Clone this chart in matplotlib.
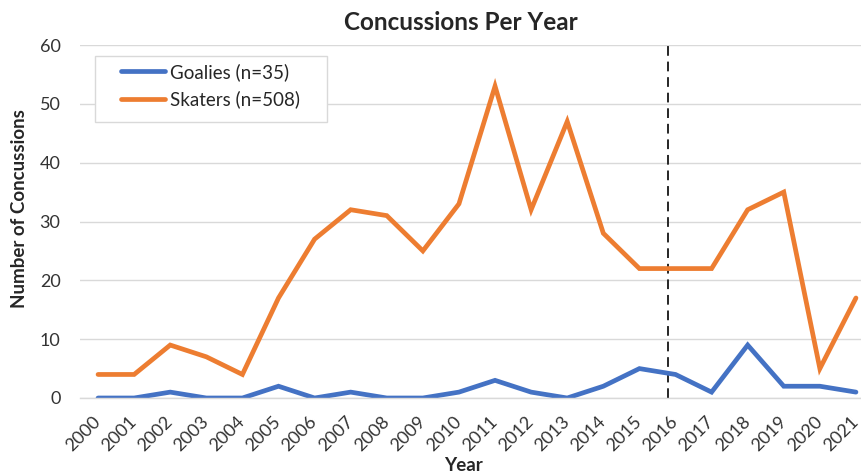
import matplotlib
matplotlib.use("Agg")
import matplotlib.pyplot as plt
from matplotlib.patches import Rectangle

years = list(range(2000, 2022))
goalies = [0, 0, 1, 0, 0, 2, 0, 1, 0, 0, 1, 3, 1, 0, 2, 5, 4, 1, 9, 2, 2, 1]
skaters = [4, 4, 9, 7, 4, 17, 27, 32, 31, 25, 33, 53, 32, 47, 28, 22, 22, 22, 32, 35, 5, 17]
series_labels = ["Goalies (n=35)", "Skaters (n=508)"]
yticks = [0, 10, 20, 30, 40, 50, 60]
marker_year = 2016

plt.rcParams['font.family'] = ['Lato', 'DejaVu Sans']

fig = plt.figure(figsize=(8.62, 4.75), dpi=100)
W, H = 862, 475
left, right = 80, 874
bottom, top = 398, 45
ax = fig.add_axes([left / W, (H - bottom) / H, (right - left) / W, (bottom - top) / H])

x = list(range(len(years)))
ax.plot(x, goalies, color='#4472C4', lw=3.4, label=series_labels[0], solid_capstyle='round', solid_joinstyle='miter')
ax.plot(x, skaters, color='#ED7D31', lw=3.4, label=series_labels[1], solid_capstyle='round', solid_joinstyle='miter')

mx = years.index(marker_year) - 0.2
ax.axvline(mx, color='#262626', lw=1.4, ls=(0, (5, 3)), zorder=1)

ax.set_xlim(-0.5, len(years) - 0.5)
ax.set_ylim(0, 60)
ax.set_yticks(yticks)
ax.set_xticks(x)
ax.set_xticklabels([str(y) for y in years], rotation=45, ha='right', va='center', rotation_mode='anchor')
ax.tick_params(axis='both', length=0, labelsize=13, colors='#333333')
ax.tick_params(axis='y', pad=14)
ax.tick_params(axis='x', pad=15)
ax.grid(axis='y', color='#D9D9D9', lw=1)
ax.set_axisbelow(True)
for s in ['top', 'right', 'left']:
    ax.spines[s].set_visible(False)
ax.spines['bottom'].set_color('#D9D9D9')
ax.spines['bottom'].set_linewidth(1)

fig.text(461 / W, 1 - 23 / H, "Concussions Per Year", ha='center', va='center',
         fontsize=17.5, fontweight='bold', color='#262626')
fig.text(20 / W, 1 - 209 / H, "Number of Concussions", ha='center', va='center',
         rotation=90, fontsize=13.5, fontweight='bold', color='#262626')
fig.text(463 / W, 1 / H, "Year", ha='center', va='bottom',
         fontsize=13.5, fontweight='bold', color='#262626')

# legend frame
fig.patches.append(Rectangle((95 / W, 1 - 122 / H), (327 - 95) / W, (122 - 56) / H,
                             transform=fig.transFigure, facecolor='white',
                             edgecolor='#D9D9D9', lw=1, zorder=3))
leg = fig.legend(loc='upper left', bbox_to_anchor=(121 / W, 1 - 63 / H),
                 frameon=False, fontsize=13.5, handlelength=2.35, handletextpad=0.25,
                 borderpad=0, labelspacing=0.5, borderaxespad=0)
leg.set_zorder(4)
for t in leg.get_texts():
    t.set_color('#262626')

fig.savefig('out.png', dpi=100)
